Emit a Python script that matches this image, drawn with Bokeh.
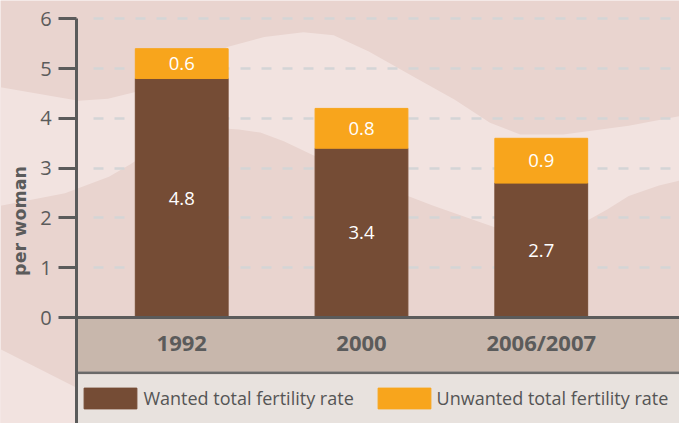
from bokeh.plotting import figure
from bokeh.models import Range1d, FixedTicker, Legend, LegendItem, ColumnDataSource
from bokeh.core.properties import value
from bokeh.embed import file_html
from bokeh.resources import INLINE

# ---------------- data ----------------
categories = ["1992", "2000", "2006/2007"]
wanted = [4.8, 3.4, 2.7]
unwanted = [0.6, 0.8, 0.9]
y_ticks = [0, 1, 2, 3, 4, 5, 6]
series_names = ["Wanted total fertility rate", "Unwanted total fertility rate"]

# ---------------- styles ----------------
BG_DARK = "#e9d4cf"
BG_LIGHT = "#f2e3e0"
BROWN = "#754c35"
ORANGE = "#f8a51c"
AXIS = "#5b5b5b"
GRID = "#d4d5d6"
BAND = "#c8b7ac"
BAND_LINE = "#6a6a6a"
LEGEND_BG = "#e8e2de"
TEXT = "#555555"
FONT = "Open Sans"

# ---------------- geometry (reference pixel layout) ----------------
REF_W, REF_H = 695, 439
W, H = 679, 423
SX, SY = W / REF_W, H / REF_H
X0_PX, X_STEP_PX = 185.5, 184.0
Y0_PX, Y_UNIT_PX = 329.0, 51.667
BAR_W = 95.0 / X_STEP_PX


def dx(px):
    return (px - X0_PX) / X_STEP_PX


def dy(py):
    return (Y0_PX - py) / Y_UNIT_PX


# decorative background waves (reference pixels)
wave_top = [(0, 90), (40, 97), (80, 104), (110, 102), (138, 95), (185, 70), (233, 48),
            (270, 38), (310, 33), (341, 36), (377, 53), (421, 78), (465, 103), (501, 127),
            (532, 139), (576, 139), (643, 130), (695, 120)]
wave_bottom = [(695, 187), (674, 192), (643, 203), (621, 217), (598, 230), (560, 236),
               (505, 235), (443, 213), (417, 203), (370, 182), (319, 160), (290, 146),
               (266, 137), (244, 134), (233, 133), (200, 138), (160, 152), (133, 170),
               (111, 183), (66, 200), (0, 213)]
wave_corner = [(0, 362), (90, 408), (90, 439), (0, 439)]

p = figure(width=W, height=H,
           x_range=Range1d(dx(0), dx(REF_W)), y_range=Range1d(dy(REF_H), dy(0)),
           output_backend="svg", toolbar_location=None, min_border=0,
           background_fill_color=BG_DARK, border_fill_color=BG_DARK,
           outline_line_color=None)

for shape in (wave_top + wave_bottom, wave_corner):
    p.patch([dx(a) for a, b in shape], [dy(b) for a, b in shape],
            fill_color=BG_LIGHT, line_color=None, level="image")

# grid
p.xgrid.visible = False
g = p.ygrid[0]
g.ticker = FixedTicker(ticks=y_ticks[1:])
g.grid_line_color = GRID
g.grid_line_width = 2.5
g.grid_line_dash = "10 11"
try:
    g.cross_bounds = (dx(95), dx(REF_W))
except Exception:
    pass

# category band and legend band
p.quad(left=[dx(78)], right=[dx(REF_W)], top=[0], bottom=[dy(385)],
       fill_color=BAND, line_color=None)
p.quad(left=[dx(78)], right=[dx(REF_W)], top=[dy(385)], bottom=[dy(388)],
       fill_color=BAND_LINE, line_color=None)
p.quad(left=[dx(78)], right=[dx(REF_W)], top=[dy(388)], bottom=[dy(REF_H)],
       fill_color=LEGEND_BG, line_color=None)

# bars
xs = list(range(len(categories)))
src = ColumnDataSource(dict(
    x=xs, wanted=wanted, unwanted=unwanted,
    y_w=[w / 2 for w in wanted],
    y_u=[w + u / 2 for w, u in zip(wanted, unwanted)],
    t_w=[f"{w:.1f}" for w in wanted],
    t_u=[f"{u:.1f}" for u in unwanted],
))
bars = p.vbar_stack(["wanted", "unwanted"], x="x", width=BAR_W,
                    color=[BROWN, ORANGE], source=src)

for ycol, tcol in (("y_w", "t_w"), ("y_u", "t_u")):
    p.text(x="x", y=ycol, text=tcol, source=src, text_color="white",
           text_font=value(FONT), text_font_size="18.5px",
           text_align="center", text_baseline="middle")

# y axis
ya = p.yaxis[0]
ya.fixed_location = dx(78)
ya.bounds = (dy(REF_H), 6)
ya.ticker = FixedTicker(ticks=y_ticks)
ya.axis_line_color = AXIS
ya.axis_line_width = 3
ya.major_tick_line_color = AXIS
ya.major_tick_line_width = 3
ya.major_tick_out = 18
ya.major_tick_in = 0
ya.minor_tick_out = 0
ya.minor_tick_in = 0
ya.major_label_text_font = FONT
ya.major_label_text_font_size = "20px"
ya.major_label_text_color = AXIS
ya.major_label_standoff = 7
ya.axis_label = "per woman"
ya.axis_label_text_font = "DejaVu Sans"
ya.axis_label_text_font_style = "bold"
ya.axis_label_text_font_size = "17.5px"
ya.axis_label_text_color = AXIS
ya.axis_label_standoff = 7

# x axis
xa = p.xaxis[0]
xa.fixed_location = 0
xa.bounds = (dx(60), dx(REF_W))
xa.ticker = FixedTicker(ticks=xs)
xa.major_label_overrides = {i: c for i, c in zip(xs, categories)}
xa.axis_line_color = AXIS
xa.axis_line_width = 3
xa.major_tick_out = 0
xa.major_tick_in = 0
xa.minor_tick_out = 0
xa.minor_tick_in = 0
xa.major_label_text_font = FONT
xa.major_label_text_font_style = "bold"
xa.major_label_text_font_size = "22px"
xa.major_label_text_color = AXIS
xa.major_label_standoff = 9

# legends
gw, gh = 67.5 * SX, 27.5 * SY
ly = H - 426.75 * SY
for r, name, left_px in ((bars[0], series_names[0], 86), (bars[1], series_names[1], 386)):
    leg = Legend(items=[LegendItem(label=name, renderers=[r])],
                 location=((left_px - 6.75) * SX, ly), orientation="horizontal",
                 glyph_width=int(round(gw)), glyph_height=int(round(gh)),
                 label_standoff=0, padding=0, margin=0, spacing=0,
                 border_line_color=None, background_fill_alpha=0,
                 label_text_font=FONT, label_text_font_size="18px",
                 label_text_color=TEXT)
    p.add_layout(leg)

open("out.html", "w").write(file_html(p, INLINE))
